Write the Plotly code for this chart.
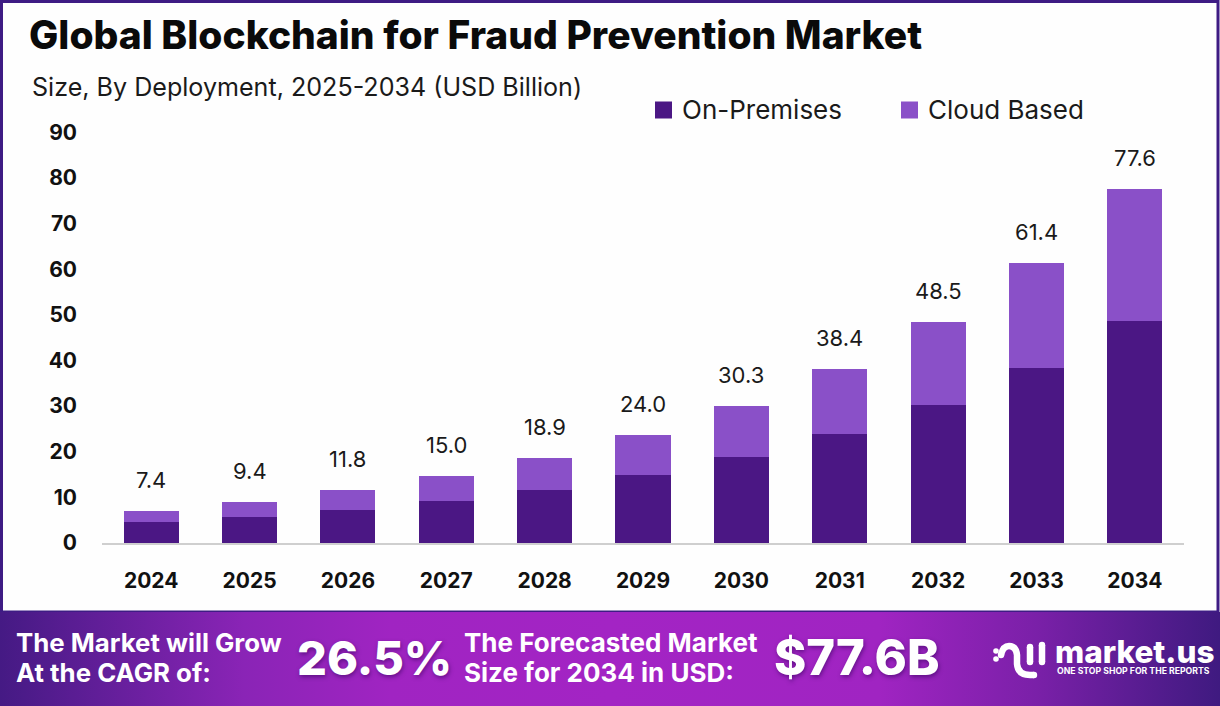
import plotly.graph_objects as go

years = ["2024","2025","2026","2027","2028","2029","2030","2031","2032","2033","2034"]
on_premises = [4.5,5.7,7.2,9.2,11.6,14.9,18.9,23.9,30.3,38.4,48.7]
cloud_based = [2.5,3.3,4.4,5.5,7.0,8.8,11.1,14.2,18.1,23.0,28.9]
total_labels = ["7.4","9.4","11.8","15.0","18.9","24.0","30.3","38.4","48.5","61.4","77.6"]
y_ticks = [0,10,20,30,40,50,60,70,80,90]

W, H = 1220, 706
FONT = "Inter"
DARK = "#4b1784"
LIGHT = "#8a50c8"
BORDER = "#3e1c84"
px = lambda x: x / W
py = lambda y: 1 - y / H

fig = go.Figure()
fig.add_bar(x=years, y=on_premises, name="On-Premises", marker=dict(color=DARK, line=dict(width=0)),
            width=0.56, hoverinfo="x+y")
fig.add_bar(x=years, y=cloud_based, name="Cloud Based", marker=dict(color=LIGHT, line=dict(width=0)),
            width=0.56, hoverinfo="x+y")

# footer gradient band on its own overlay axes
fig.add_scatter(
    x=[0, 1, 1, 0, 0], y=[0, 0, 1, 1, 0], xaxis="x2", yaxis="y2", mode="lines",
    line=dict(width=0), fill="toself", hoverinfo="skip", showlegend=False,
    fillgradient=dict(type="horizontal", colorscale=[
        [0, "#451a84"], [0.2, "#8a24b6"], [0.32, "#a024c2"], [0.5, "#a324c4"],
        [0.72, "#a024c2"], [0.85, "#7a20a8"], [1, "#3f1a80"]]),
)

ann = []
def text(x, y, s, size, color="#111111", weight=400, anchor="left", shadow=None):
    f = dict(family=FONT, size=size, color=color, weight=weight)
    if shadow:
        f["shadow"] = shadow
    ann.append(dict(xref="paper", yref="paper", x=px(x), y=py(y), text=s, showarrow=False,
                    xanchor=anchor, yanchor="middle", font=f))

# value labels above each stack (annotations on a category axis use the serial index)
for i, (a, b, lab) in enumerate(zip(on_premises, cloud_based, total_labels)):
    ann.append(dict(xref="x", yref="y", x=i, y=a + b, text=lab, showarrow=False, yshift=31,
                    xanchor="center", yanchor="middle",
                    font=dict(family=FONT, size=22, color="#1a1a1a")))

text(30, 87, "Size, By Deployment, 2025-2034 (USD Billion)", 25.1, "#1a1a1a")
WS = "1px 2px 4px rgba(50,0,90,0.55)"
text(14, 642, "The Market will Grow", 25.8, "white", 700)
text(14, 672, "At the CAGR of:", 25.8, "white", 700)
text(295, 657, "26.5%", 47, "white", 800, shadow=WS)
text(462, 642, "The Forecasted Market", 26, "white", 700)
text(462, 672, "Size for 2034 in USD:", 26, "white", 700)
text(772, 657, "$77.6B", 49, "white", 800, shadow=WS)
text(1053, 651, "market.us", 31.5, "white", 800)
text(1055, 671, "ONE STOP SHOP FOR THE REPORTS", 8.7, "white", 700)

shapes = [
    # outer frame of the white panel
    dict(type="rect", xref="paper", yref="paper", x0=px(1.5), x1=px(W - 2), y0=py(1.5), y1=py(612),
         line=dict(color=BORDER, width=3), fillcolor="rgba(0,0,0,0)", layer="below"),
    # larger legend swatches
    dict(type="rect", xref="paper", yref="paper", x0=px(655), x1=px(672), y0=py(118.5), y1=py(101.5),
         fillcolor=DARK, line=dict(width=0)),
    dict(type="rect", xref="paper", yref="paper", x0=px(901), x1=px(918), y0=py(118.5), y1=py(101.5),
         fillcolor=LIGHT, line=dict(width=0)),
]
# logo
def seg(path):
    shapes.append(dict(type="path", xref="paper", yref="paper", path=path,
                       line=dict(color="white", width=6.5)))
def dot(x, y, r):
    shapes.append(dict(type="circle", xref="paper", yref="paper", x0=px(x - r), x1=px(x + r),
                       y0=py(y + r), y1=py(y - r), fillcolor="white", line=dict(width=0)))
P = lambda x, y: f"{px(x):.5f},{py(y):.5f}"
seg(f"M{P(1001,655)} Q{P(1003,646)} {P(1009,646)} Q{P(1016,646)} {P(1017,655)} L{P(1017,664)} "
    f"Q{P(1018,675)} {P(1030,675)} L{P(1034,675)}")
seg(f"M{P(1030,647)} L{P(1030,662)}")
seg(f"M{P(1042,645)} L{P(1042,662)}")
for x, y, r in [(1001,655,3.2),(1034,675,3.2),(1030,647,3.2),(1030,662,3.2),(1042,645,3.2),(1042,662,3.2),
                (996,651,2.8),(996,659,2.8)]:
    dot(x, y, r)

fig.update_layout(
    width=W, height=H, margin=dict(l=0, r=0, t=0, b=0, pad=0), autosize=False,
    paper_bgcolor="#fefefe", plot_bgcolor="rgba(0,0,0,0)", barmode="stack", bargap=0.44,
    title=dict(text="Global Blockchain for Fraud Prevention Market", xref="paper", yref="paper",
               x=px(29), y=py(35), xanchor="left", yanchor="middle",
               font=dict(family=FONT, size=39, color="#0a0a0a", weight=800)),
    showlegend=True,
    legend=dict(orientation="h", xref="paper", yref="paper", x=px(642), y=py(109), xanchor="left",
                yanchor="middle", font=dict(family=FONT, size=26, color="#1a1a1a"),
                entrywidth=201, entrywidthmode="pixels", traceorder="normal",
                bgcolor="rgba(0,0,0,0)", itemclick=False, itemdoubleclick=False),
    xaxis=dict(domain=[px(102), px(1184)], type="category", categoryorder="array", categoryarray=years,
               range=[-0.5, 10.5], showgrid=False, showline=True, linecolor="#cfcfcf", linewidth=2,
               ticks="", anchor="y", automargin=False,
               tickfont=dict(family=FONT, size=21, color="#111111", weight=700),
               ticklabelstandoff=18, zeroline=False),
    yaxis=dict(domain=[py(543), py(110)], range=[0, 433 / 4.562], tickvals=y_ticks, showgrid=False, zeroline=False,
               automargin=False, showline=False, ticks="",
               tickfont=dict(family=FONT, size=21, color="#111111", weight=700),
               ticklabelstandoff=24, anchor="x"),
    xaxis2=dict(domain=[0, 1], range=[0, 1], visible=False, fixedrange=True, anchor="y2", automargin=False),
    yaxis2=dict(domain=[0, py(612)], range=[0, 1], visible=False, fixedrange=True, anchor="x2", automargin=False),
    annotations=ann, shapes=shapes,
)
fig.write_html("out.html", config={"displayModeBar": False}, post_script="document.body.style.margin='0';")
